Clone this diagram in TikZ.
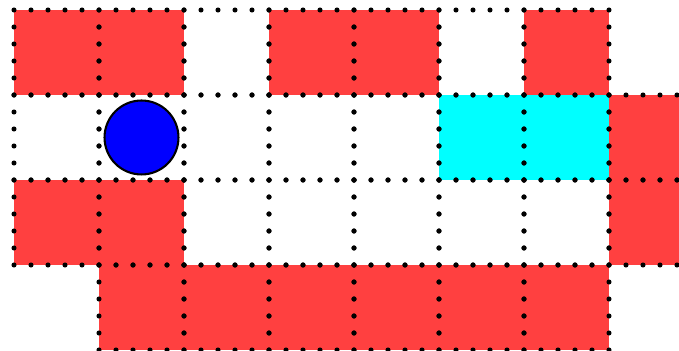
\documentclass[tikz,border=0pt]{standalone}
\definecolor{cellred}{RGB}{255,64,64}
\definecolor{cellcyan}{RGB}{0,255,255}
\definecolor{ballblue}{RGB}{0,0,255}
\tikzset{
  cellfill/.style={fill=#1, draw=none},
  cellborder/.style={draw=black, line width=1.7pt, line cap=round, dash pattern=on 0pt off 0.2cm},
  ball/.style={circle, fill=ballblue, draw=black, line width=0.7pt, minimum size=0.87cm, inner sep=0pt}
}
\begin{document}
\begin{tikzpicture}
\useasboundingbox (-14/85,10/85) rectangle (665/85,-341/85);
\clip (-14/85,10/85) rectangle (665/85,-341/85);
% cells: column/row/colour
\foreach \c/\r/\col in {0/0/cellred,1/0/cellred,2/0/white,3/0/cellred,4/0/cellred,5/0/white,6/0/cellred,
  0/1/white,1/1/white,2/1/white,3/1/white,4/1/white,5/1/cellcyan,6/1/cellcyan,7/1/cellred,
  0/2/cellred,1/2/cellred,2/2/white,3/2/white,4/2/white,5/2/white,6/2/white,7/2/cellred,
  1/3/cellred,2/3/cellred,3/3/cellred,4/3/cellred,5/3/cellred,6/3/cellred}
  {\path[cellfill=\col] (\c,-\r) rectangle ++(1,-1);}
\foreach \c/\r in {0/0,1/0,2/0,3/0,4/0,5/0,6/0,
  0/1,1/1,2/1,3/1,4/1,5/1,6/1,7/1,
  0/2,1/2,2/2,3/2,4/2,5/2,6/2,7/2,
  1/3,2/3,3/3,4/3,5/3,6/3}
  {\draw[cellborder] (\c,-\r) rectangle ++(1,-1);}
\node[ball] (agent) at (1.5,-1.5) {};
\end{tikzpicture}
\end{document}
